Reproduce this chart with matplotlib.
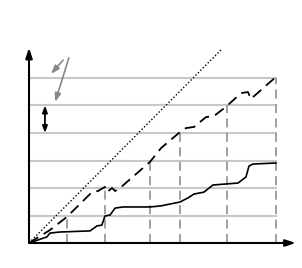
import matplotlib
matplotlib.use("Agg")
import matplotlib.pyplot as plt

# data (grid units)
dashed_x = [0, 0.76, 1.38, 2.29, 2.51, 2.76, 2.84, 3.02, 3.13, 3.31, 4.4, 4.8, 5.45, 5.71, 6.0, 6.44, 6.73, 7.16, 7.71, 7.96, 8.07, 8.98]
dashed_y = [0, 0.47, 0.95, 1.85, 1.89, 2.04, 1.85, 2.0, 1.89, 2.0, 2.95, 3.45, 4.0, 4.18, 4.22, 4.58, 4.62, 4.95, 5.45, 5.49, 5.24, 6.04]
solid_x = [0, 0.65, 0.76, 1.13, 2.22, 2.47, 2.65, 2.76, 2.95, 3.13, 3.42, 4.4, 4.8, 5.49, 5.78, 6.0, 6.36, 6.69, 7.6, 7.89, 8.0, 8.15, 8.98]
solid_y = [0, 0.22, 0.36, 0.4, 0.44, 0.62, 0.65, 0.98, 1.02, 1.27, 1.31, 1.31, 1.35, 1.49, 1.64, 1.78, 1.85, 2.11, 2.18, 2.4, 2.8, 2.87, 2.91]
dotted_x = [0, 6.98]
dotted_y = [0, 7.02]
grid_levels = [1, 2, 3, 4, 5, 6]
marker_x = [1.38, 2.76, 4.4, 5.49, 7.2, 8.98]
marker_top = [1, 2, 3, 4, 5, 6]

fig = plt.figure(figsize=(3.02, 2.68), dpi=100)
ax = fig.add_axes([0, 0, 1, 1])
ax.set_xlim(-29 / 27.5, 273 / 27.5)
ax.set_ylim(-25 / 27.5, 243 / 27.5)
ax.axis("off")

for g in grid_levels:
    ax.plot([0, 8.98], [g, g], color="#c8c8c8", lw=1.5, zorder=1)

for mx, mt in zip(marker_x, marker_top):
    ax.plot([mx, mx], [0, mt], color="#999999", lw=1.3, ls=(0, (5, 3)), zorder=2)

ax.plot(dotted_x, dotted_y, color="black", lw=1.0, ls=(0, (1, 1.5)), zorder=3)
ax.plot(dashed_x, dashed_y, color="black", lw=1.3, ls=(0, (6, 3.5)), zorder=4)
ax.plot(solid_x, solid_y, color="black", lw=1.2, zorder=4)

# axes arrows
ax.annotate("", xy=(0, 7.1), xytext=(0, 0),
            arrowprops=dict(arrowstyle="-|>,head_length=0.6,head_width=0.2", color="black", lw=1.5, shrinkA=0, shrinkB=0))
ax.annotate("", xy=(9.7, 0), xytext=(0, 0),
            arrowprops=dict(arrowstyle="-|>,head_length=0.6,head_width=0.2", color="black", lw=1.5, shrinkA=0, shrinkB=0))

# gray arrows
ax.annotate("", xy=(0.8, 6.15), xytext=(1.24, 6.65),
            arrowprops=dict(arrowstyle="-|>,head_length=0.5,head_width=0.18", color="#888888", lw=1.2, shrinkA=0, shrinkB=0))
ax.annotate("", xy=(0.95, 5.13), xytext=(1.45, 6.73),
            arrowprops=dict(arrowstyle="-|>,head_length=0.5,head_width=0.18", color="#888888", lw=1.2, shrinkA=0, shrinkB=0))
# double arrow
ax.annotate("", xy=(0.58, 4.0), xytext=(0.58, 5.0),
            arrowprops=dict(arrowstyle="<|-|>,head_length=0.4,head_width=0.15", color="black", lw=1.3, shrinkA=0, shrinkB=0))

fig.savefig("out.png", dpi=100)
